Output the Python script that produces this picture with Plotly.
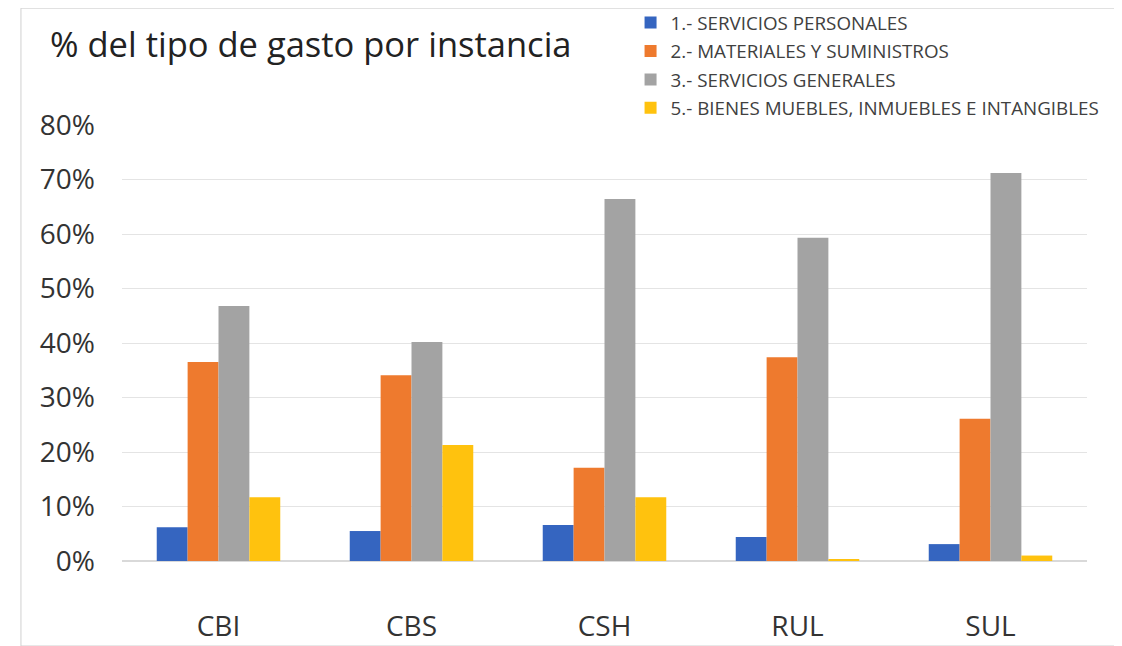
import plotly.graph_objects as go

categorias = ["CBI", "CBS", "CSH", "RUL", "SUL"]

servicios_personales = [0.062, 0.055, 0.066, 0.044, 0.031]
materiales_suministros = [0.365, 0.341, 0.171, 0.374, 0.261]
servicios_generales = [0.468, 0.402, 0.664, 0.593, 0.712]
bienes_muebles = [0.117, 0.213, 0.117, 0.003, 0.010]

series = [
    ("1.- SERVICIOS PERSONALES", servicios_personales, "#3565C0"),
    ("2.- MATERIALES Y SUMINISTROS", materiales_suministros, "#EE7A2E"),
    ("3.- SERVICIOS GENERALES", servicios_generales, "#A3A3A3"),
    ("5.- BIENES MUEBLES, INMUEBLES E INTANGIBLES", bienes_muebles, "#FFC20E"),
]

fig = go.Figure()
for i, (nombre, valores, color) in enumerate(series):
    fig.add_trace(go.Bar(
        x=categorias, y=valores, name=nombre, legendgroup=str(i),
        marker=dict(color=color, line=dict(width=0)),
    ))

# the page body adds an 8px offset, margins are set to compensate
fig.update_layout(
    width=1122, height=646,
    barmode="group", bargap=0.36, bargroupgap=0.0,
    plot_bgcolor="white", paper_bgcolor="white",
    margin=dict(l=114, r=43, t=117, b=93, autoexpand=False),
    font=dict(family="Open Sans", color="#404040"),
    title=dict(
        text="% del tipo de gasto por instancia",
        x=42 / 1122, xanchor="left", xref="container",
        y=1 - 37 / 646, yanchor="middle", yref="container",
        font=dict(size=34.5, color="#222222"),
    ),
    legend=dict(
        x=0.527, y=1.278, xanchor="left", yanchor="top",
        font=dict(size=18.8, color="#404040"),
        itemwidth=30, tracegroupgap=1,
        bgcolor="rgba(0,0,0,0)",
    ),
    showlegend=True,
)
fig.update_yaxes(
    range=[0, 0.8], dtick=0.1, tickformat=".0%",
    showgrid=True, gridcolor="#E4E4E4", gridwidth=1,
    zeroline=True, zerolinecolor="#D9D9D9",
    tickfont=dict(size=28, color="#333333"),
    ticklabelstandoff=26, showline=False,
)
fig.update_xaxes(
    tickfont=dict(size=28, color="#333333"),
    ticklabelstandoff=46, showline=False,
)
fig.add_shape(type="rect", xref="paper", yref="paper",
              x0=-0.1047, x1=1.035, y0=-0.195, y1=1.268,
              line=dict(color="#D0D0D0", width=1))

fig.write_html("out.html")
